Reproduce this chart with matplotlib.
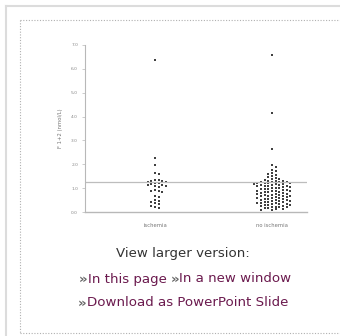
import matplotlib
matplotlib.use("Agg")
import matplotlib.pyplot as plt
from matplotlib.lines import Line2D
import numpy as np

categories = ["ischemia", "no ischemia"]
yticks = [0.0, 1.0, 2.0, 3.0, 4.0, 5.0, 6.0, 7.0]
cutoff = 1.25

ischemia = [6.37, 2.28, 1.97, 1.62, 1.60, 1.35, 1.33, 1.31, 1.29, 1.27, 1.25,
            1.22, 1.20, 1.18, 1.15, 1.12, 1.10, 1.08, 1.05, 0.92, 0.90, 0.88,
            0.85, 0.65, 0.62, 0.50, 0.45, 0.40, 0.36, 0.32, 0.27, 0.22, 0.18]

no_ischemia = [6.58, 4.17, 2.66, 1.95, 1.90, 1.78, 1.70, 1.62, 1.58, 1.55, 1.50,
               1.46, 1.42, 1.40, 1.37, 1.34, 1.32, 1.30, 1.28, 1.27, 1.26, 1.25,
               1.24, 1.23, 1.22, 1.21, 1.20, 1.19, 1.18, 1.16, 1.15, 1.14, 1.12,
               1.11, 1.10, 1.08, 1.07, 1.05, 1.04, 1.02, 1.00, 0.99, 0.97, 0.96,
               0.95, 0.93, 0.92, 0.90, 0.89, 0.88, 0.86, 0.85, 0.83, 0.82, 0.80,
               0.79, 0.77, 0.76, 0.75, 0.73, 0.72, 0.70, 0.69, 0.68, 0.66, 0.65,
               0.63, 0.62, 0.60, 0.59, 0.58, 0.56, 0.55, 0.53, 0.52, 0.50, 0.49,
               0.48, 0.46, 0.45, 0.43, 0.42, 0.40, 0.39, 0.38, 0.36, 0.35, 0.33,
               0.32, 0.30, 0.29, 0.28, 0.26, 0.25, 0.23, 0.22, 0.20, 0.19, 0.17,
               0.15, 0.13, 0.11, 0.09, 0.07]

W, H = 340, 336
fig = plt.figure(figsize=(W / 100, H / 100), dpi=100)
fig.patch.set_facecolor("white")


def px(x, y):
    return x / W, 1 - y / H


# page frame
fig.add_artist(Line2D([6 / W, 1], [1 - 6 / H] * 2, color="#dcdcdc", lw=1.5))
fig.add_artist(Line2D([6 / W] * 2, [1 - 6 / H, 0], color="#dcdcdc", lw=1.5))
dot = dict(color="#b0b0b0", lw=0.8, ls=(0, (1, 1.5)))
fig.add_artist(Line2D([20 / W, 1], [1 - 20 / H] * 2, **dot))
fig.add_artist(Line2D([20 / W] * 2, [1 - 20 / H, 1 - 333 / H], **dot))
fig.add_artist(Line2D([20 / W, 1], [1 - 333 / H] * 2, **dot))

# axes: x 85..307, y 45..212
ax = fig.add_axes([85 / W, 1 - 212 / H, 222 / W, 167 / H])
ax.set_facecolor("none")
ax.set_xlim(-0.598, 1.299)
ax.set_ylim(0, 7.0)
for s in ["top", "right"]:
    ax.spines[s].set_visible(False)
ax.spines["left"].set_color("#b8b8b8")
ax.spines["bottom"].set_color("#b8b8b8")
ax.spines["left"].set_linewidth(0.8)
ax.spines["bottom"].set_linewidth(1.0)
ax.set_yticks(yticks)
ax.set_yticklabels([f"{v:.1f}" for v in yticks], fontsize=3.2, color="#888888")
ax.tick_params(axis="y", length=2, width=0.5, color="#b8b8b8", pad=3)
ax.set_xticks([])
ax.axhline(cutoff, color="#bdbdbd", lw=0.9)
ax.set_ylabel("F 1+2 (nmol/L)", fontsize=3.8, color="#777777", labelpad=6)
for i, c in enumerate(categories):
    ax.text(i, -0.55, c, ha="center", va="center", fontsize=3.8, color="#777777")


def swarm(values, center, dx=0.031, dy=0.12):
    placed = []
    xs = []
    for v in values:
        k = 0
        while True:
            off = ((k + 1) // 2) * dx * (1 if k % 2 else -1)
            ok = all(abs(v - pv) > dy or abs(off - po) > dx * 0.9 for pv, po in placed)
            if ok:
                break
            k += 1
        placed.append((v, off))
        xs.append(center + off)
    return np.array(xs), np.array(values)


for i, data in enumerate([ischemia, no_ischemia]):
    xs, ys = swarm(data, i)
    ax.scatter(xs, ys, s=3.0, marker="s", color="#1e1e1e", linewidths=0, alpha=0.85)

# caption / links
FS = 9.6
renderer = fig.canvas.get_renderer()


def line(pieces, x0, y):
    x = x0
    for txt, col, wt in pieces:
        t = fig.text(*px(x, y), txt, ha="left", va="center", fontsize=FS, color=col, weight=wt)
        bb = t.get_window_extent(renderer)
        x += bb.width


fig.text(*px(183, 254), "View larger version:", ha="center", va="center",
         fontsize=FS, color="#333333")
link = "#6b1a4e"
arrow = "#666666"
line([("»", arrow, "bold"), ("In this page ", link, "normal"),
      ("»", arrow, "bold"), ("In a new window", link, "normal")], 79, 279)
line([("»", arrow, "bold"), ("Download as PowerPoint Slide", link, "normal")], 78, 303)

fig.savefig("out.png", dpi=100, facecolor="white")
